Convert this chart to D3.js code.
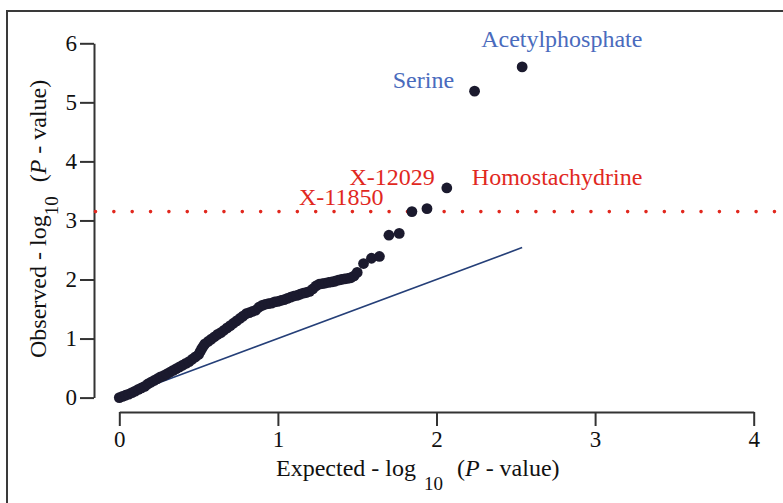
<!DOCTYPE html>
<html lang="en">
<head>
    <meta charset="UTF-8">
    <title>QQ plot</title>
    <script src="https://d3js.org/d3.v7.min.js"></script>
    <style>
        body { margin: 0; background: #fff; }
        svg { display: block; font-family: "Liberation Serif", "Times New Roman", serif; }
    </style>
</head>
<body>
    <div id="chart"></div>

    <script>
        // expected -log10(P) for each point
        const expected = [
            0.00, 0.02, 0.04, 0.06, 0.08, 0.10, 0.12, 0.14, 0.16, 0.18,
            0.20, 0.22, 0.24, 0.26, 0.28, 0.30, 0.32, 0.34, 0.36, 0.38,
            0.40, 0.42, 0.44, 0.46, 0.48, 0.50, 0.51, 0.52, 0.53, 0.54,
            0.56, 0.58, 0.60, 0.62, 0.64, 0.66, 0.68, 0.70, 0.72, 0.74,
            0.76, 0.78, 0.80, 0.82, 0.84, 0.86, 0.88, 0.90, 0.92, 0.94,
            0.96, 0.98, 1.00, 1.02, 1.04, 1.06, 1.08, 1.10, 1.12, 1.14,
            1.16, 1.18, 1.20, 1.22, 1.24, 1.26, 1.28, 1.30, 1.32, 1.34,
            1.36, 1.38, 1.40, 1.42, 1.44, 1.46, 1.48,
            1.50, 1.54, 1.59, 1.64, 1.70, 1.765, 1.845, 1.94, 2.065, 2.24, 2.54
        ];
        // observed -log10(P)
        const observed = [
            0.00, 0.02, 0.04, 0.06, 0.085, 0.11, 0.14, 0.165, 0.19, 0.23,
            0.26, 0.29, 0.32, 0.35, 0.37, 0.40, 0.43, 0.46, 0.49, 0.52,
            0.55, 0.58, 0.61, 0.65, 0.69, 0.73, 0.78, 0.83, 0.87, 0.91,
            0.95, 0.99, 1.03, 1.07, 1.10, 1.14, 1.18, 1.22, 1.26, 1.30,
            1.34, 1.38, 1.42, 1.44, 1.46, 1.48, 1.53, 1.56, 1.58, 1.59,
            1.60, 1.62, 1.63, 1.645, 1.66, 1.68, 1.70, 1.72, 1.73, 1.75,
            1.77, 1.78, 1.80, 1.84, 1.89, 1.92, 1.93, 1.94, 1.95, 1.96,
            1.97, 1.99, 2.00, 2.01, 2.02, 2.03, 2.06,
            2.12, 2.27, 2.36, 2.39, 2.75, 2.78, 3.15, 3.20, 3.55, 5.19, 5.60
        ];

        const xTicks = [0, 1, 2, 3, 4];
        const yTicks = [0, 1, 2, 3, 4, 5, 6];
        const threshold = 3.15;
        const maxExpected = 2.54;

        // named hits: text, which point, colour group
        const hitNames = ["Acetylphosphate", "Serine", "Homostachydrine", "X-12029", "X-11850"];
        const hitPoints = [2.54, 2.24, 2.065, 2.065, 1.845];
        const hitGroups = ["blue", "blue", "red", "red", "red"];

        const width = 783;
        const height = 503;

        const svg = d3.select("#chart")
            .append("svg")
            .attr("width", width)
            .attr("height", height);

        // outer frame, runs off the right and bottom edges
        svg.append("rect")
            .attr("x", 7)
            .attr("y", 11)
            .attr("width", 820)
            .attr("height", 540)
            .attr("fill", "none")
            .attr("stroke", "#3a3a3a")
            .attr("stroke-width", 2);

        const x = d3.scaleLinear().domain([0, 4]).range([119.3, 753.7]);
        const y = d3.scaleLinear().domain([0, 6]).range([397.6, 43.3]);

        // axes
        const yAxis = svg.append("g")
            .attr("transform", "translate(94,0)")
            .call(d3.axisLeft(y).tickValues(yTicks).tickFormat(d3.format("d"))
                .tickSize(14).tickSizeOuter(0).tickPadding(3));

        const xAxis = svg.append("g")
            .attr("transform", "translate(0,412)")
            .call(d3.axisBottom(x).tickValues(xTicks).tickFormat(d3.format("d"))
                .tickSize(14).tickSizeOuter(0).tickPadding(5));

        [xAxis, yAxis].forEach(g => {
            g.attr("font-family", "Liberation Serif, Times New Roman, serif")
                .attr("font-size", 23);
            g.selectAll("path, line").attr("stroke", "#333").attr("stroke-width", 2);
            g.selectAll("text").attr("fill", "#111");
        });

        // significance threshold, dotted
        svg.append("line")
            .attr("x1", 95.5)
            .attr("x2", width + 10)
            .attr("y1", y(threshold))
            .attr("y2", y(threshold))
            .attr("stroke", "#e1281e")
            .attr("stroke-width", 3.6)
            .attr("stroke-linecap", "round")
            .attr("stroke-dasharray", "0 18.35");

        // null line y = x
        svg.append("line")
            .attr("x1", x(0))
            .attr("y1", y(0))
            .attr("x2", x(maxExpected))
            .attr("y2", y(maxExpected))
            .attr("stroke", "#253f78")
            .attr("stroke-width", 1.6);

        // points
        svg.append("g")
            .selectAll("circle")
            .data(expected.map((e, i) => [e, observed[i]]))
            .enter()
            .append("circle")
            .attr("cx", d => x(d[0]))
            .attr("cy", d => y(d[1]))
            .attr("r", 5.4)
            .attr("fill", "#1b1a2e");

        // labels next to the top hits (offsets in px from the point)
        const labelPlace = {
            "Acetylphosphate": { dx: -41, dy: -20, anchor: "start" },
            "Serine": { dx: -20.5, dy: -3, anchor: "end" },
            "Homostachydrine": { dx: 25, dy: -3, anchor: "start" },
            "X-12029": { dx: -12, dy: -3, anchor: "end" },
            "X-11850": { dx: -28.5, dy: -7, anchor: "end" }
        };
        const groupColor = { blue: "#4a6bbd", red: "#e1281e" };

        hitNames.forEach((name, i) => {
            const ex = hitPoints[i];
            const ob = observed[expected.indexOf(ex)];
            const p = labelPlace[name];
            svg.append("text")
                .attr("x", x(ex) + p.dx)
                .attr("y", y(ob) + p.dy)
                .attr("text-anchor", p.anchor)
                .attr("fill", groupColor[hitGroups[i]])
                .style("font-size", "24px")
                .text(name);
        });

        // axis titles
        const xt = svg.append("text")
            .attr("x", 276)
            .attr("y", 475.5)
            .attr("fill", "#111")
            .style("font-size", "24px");
        xt.append("tspan").text("Expected - log");
        xt.append("tspan").attr("dx", 8).attr("dy", 14).style("font-size", "19px").text("10");
        xt.append("tspan").attr("dx", 14).attr("dy", -14).text("(");
        xt.append("tspan").style("font-style", "italic").text("P");
        xt.append("tspan").text(" - value)");

        const yt = svg.append("text")
            .attr("transform", "translate(46,358) rotate(-90)")
            .attr("fill", "#111")
            .style("font-size", "24px");
        yt.append("tspan").text("Observed - log");
        yt.append("tspan").attr("dy", 12).style("font-size", "19px").text("10");
        yt.append("tspan").attr("dx", 14).attr("dy", -12).text("(");
        yt.append("tspan").style("font-style", "italic").text("P");
        yt.append("tspan").text(" - value)");
    </script>
</body>
</html>
